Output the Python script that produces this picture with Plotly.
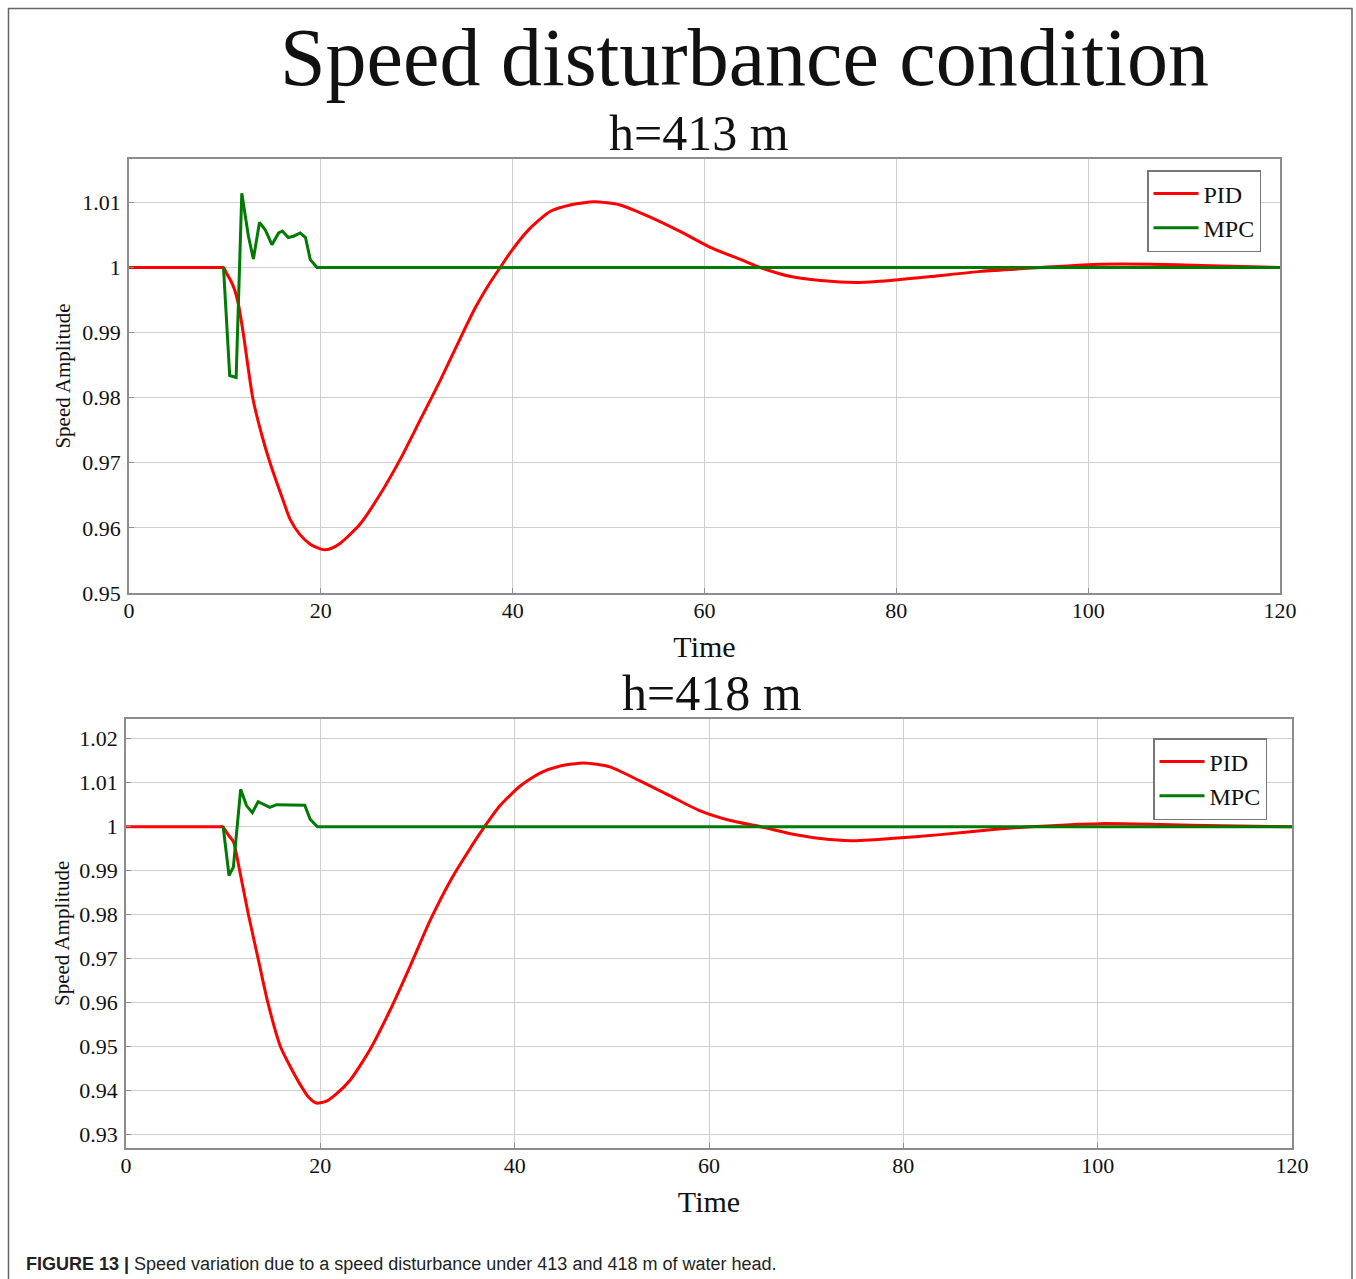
import plotly.graph_objects as go

# ---------------- data ----------------
# h = 413 m
t_pid_413 = [0, 5, 9.5, 9.85, 10.2, 10.6, 11.0, 11.4, 11.9, 12.9, 13.8, 14.7, 16.0, 16.8, 17.8, 18.9, 20.1,
             21.0, 22.0, 24.1, 26.2, 28.3, 30.4, 32.5, 34.5, 36.1, 37.7, 38.7, 39.8, 41.8, 43.9, 46.0,
             48.5, 51.2, 54.4, 57.5, 60.6, 63.8, 65.8, 69.0, 72.1, 75.8, 79.4, 83.6, 88.8, 95.1,
             101.3, 106.5, 111.8, 120]
v_pid_413 = [1.0, 1.0, 1.0, 1.0, 0.9990, 0.9980, 0.9966, 0.9944, 0.9900, 0.9800, 0.9745, 0.9700, 0.9645,
             0.9613, 0.9590, 0.9575, 0.9567, 0.9568, 0.9576, 0.9606, 0.9652, 0.9706, 0.9767, 0.9828,
             0.9890, 0.9938, 0.9978, 1.0000, 1.0024, 1.0060, 1.0086, 1.0096, 1.0101, 1.0096, 1.0077,
             1.0055, 1.0031, 1.0012, 1.0000, 0.9986, 0.9980, 0.9977, 0.9980, 0.9986, 0.9994, 1.0000,
             1.0005, 1.0005, 1.0003, 1.0000]
t_mpc_413 = [9.85, 10.5, 11.17, 11.76, 12.45, 12.97, 13.6, 14.2, 14.9, 15.6, 16.0, 16.6, 17.15,
             17.85, 18.4, 18.9, 19.6, 120]
v_mpc_413 = [1.0, 0.9834, 0.9831, 1.0114, 1.0048, 1.0013, 1.0069, 1.0058, 1.0035, 1.0053, 1.0056,
             1.0046, 1.0048, 1.0053, 1.0046, 1.0012, 1.0000, 1.0000]

# h = 418 m
t_pid_418 = [0, 5, 9.6, 9.96, 10.5, 11.05, 11.7, 12.6, 13.6, 14.6, 15.9, 16.9, 17.9, 18.8, 19.6, 20.5,
             21.5, 23.1, 25.1, 27.2, 29.2, 31.3, 33.4, 35.4, 36.9, 38.5, 40.6, 42.6, 44.7, 47.1, 49.8,
             52.9, 56.0, 59.1, 62.2, 65.3, 68.4, 71.5, 74.6, 78.7, 83.8, 89.0, 93.1, 100.3, 106.5,
             112.7, 120]
v_pid_418 = [1.0, 1.0, 1.0, 1.0, 0.9982, 0.9966, 0.9900, 0.9800, 0.9700, 0.9600, 0.9500, 0.9455, 0.9415,
             0.9385, 0.9372, 0.9375, 0.9390, 0.9425, 0.9493, 0.9584, 0.9681, 0.9787, 0.9878, 0.9950,
             1.0000, 1.0048, 1.0093, 1.0122, 1.0138, 1.0145, 1.0136, 1.0104, 1.0070, 1.0036, 1.0014,
             1.0000, 0.9984, 0.9973, 0.9968, 0.9973, 0.9982, 0.9993, 1.0000, 1.0007, 1.0005, 1.0002,
             1.0000]
t_mpc_418 = [10.0, 10.6, 11.05, 11.8, 12.4, 13.0, 13.6, 14.8, 15.5, 16.9, 18.4, 18.95, 19.7, 120]
v_mpc_418 = [1.0, 0.9889, 0.9908, 1.0085, 1.0048, 1.0032, 1.0057, 1.0044, 1.0050, 1.0049,
             1.0049, 1.0017, 1.0000, 1.0000]

x_ticks = [0, 20, 40, 60, 80, 100, 120]
y_ticks_413 = [0.95, 0.96, 0.97, 0.98, 0.99, 1.0, 1.01]
y_text_413 = ["0.95", "0.96", "0.97", "0.98", "0.99", "1", "1.01"]
y_ticks_418 = [0.93, 0.94, 0.95, 0.96, 0.97, 0.98, 0.99, 1.0, 1.01, 1.02]
y_text_418 = ["0.93", "0.94", "0.95", "0.96", "0.97", "0.98", "0.99", "1", "1.01", "1.02"]

RED = "#ff0000"
GREEN = "#007a00"
SERIF = "Liberation Serif, Times New Roman, serif"

fig = go.Figure()
fig.add_trace(go.Scatter(x=t_pid_413, y=v_pid_413, name="PID", mode="lines",
                         line=dict(color=RED, width=3, shape="spline", smoothing=0.6),
                         xaxis="x", yaxis="y", legend="legend"))
fig.add_trace(go.Scatter(x=t_mpc_413, y=v_mpc_413, name="MPC", mode="lines",
                         line=dict(color=GREEN, width=3),
                         xaxis="x", yaxis="y", legend="legend"))
fig.add_trace(go.Scatter(x=t_pid_418, y=v_pid_418, name="PID", mode="lines",
                         line=dict(color=RED, width=3, shape="spline", smoothing=0.6),
                         xaxis="x2", yaxis="y2", legend="legend2"))
fig.add_trace(go.Scatter(x=t_mpc_418, y=v_mpc_418, name="MPC", mode="lines",
                         line=dict(color=GREEN, width=3),
                         xaxis="x2", yaxis="y2", legend="legend2"))

W, H = 1356, 1279

axis_common = dict(showline=True, linecolor="#8c8c8c", linewidth=1.5, mirror=True,
                   showgrid=True, gridcolor="#cfcfcf", gridwidth=1, zeroline=False,
                   ticks="inside", ticklen=5, tickcolor="#8c8c8c", automargin=False,
                   tickfont=dict(family=SERIF, size=22, color="#111"))

xt = dict(axis_common, range=[0, 120], tickvals=x_ticks,
          title=dict(text="Time", font=dict(family=SERIF, size=30, color="#111"), standoff=14),
          ticklabelstandoff=-3)

legend_common = dict(xanchor="left", yanchor="top", bgcolor="white", bordercolor="#777",
                     borderwidth=1.5, font=dict(family=SERIF, size=24, color="#111"),
                     tracegroupgap=0, itemwidth=45)

fig.update_layout(
    width=W, height=H, autosize=False,
    margin=dict(l=0, r=0, t=0, b=0, pad=0, autoexpand=False),
    paper_bgcolor="white", plot_bgcolor="white",
    showlegend=True,
    xaxis=dict(xt, domain=[129 / W, 1280 / W], anchor="y"),
    yaxis=dict(axis_common, domain=[1 - 593 / H, 1 - 159 / H], anchor="x",
               range=[0.95, 1.01666], tickvals=y_ticks_413, ticktext=y_text_413,
               ticklabelstandoff=2,
               title=dict(text="Speed Amplitude", font=dict(family=SERIF, size=21, color="#111"),
                          standoff=6)),
    xaxis2=dict(xt, domain=[126 / W, 1292 / W], anchor="y2"),
    yaxis2=dict(axis_common, domain=[1 - 1147.7 / H, 1 - 719 / H], anchor="x2",
                range=[0.92705, 1.02448], tickvals=y_ticks_418, ticktext=y_text_418,
                ticklabelstandoff=2,
                title=dict(text="Speed Amplitude", font=dict(family=SERIF, size=21, color="#111"),
                           standoff=4)),
    legend=dict(legend_common, x=1147 / W, y=1 - 170 / H),
    legend2=dict(legend_common, x=1153 / W, y=1 - 738 / H),
)

annotations = [
    dict(text="Speed disturbance condition", x=745 / W, y=1 - 57 / H, xref="paper", yref="paper",
         showarrow=False, font=dict(family=SERIF, size=82, color="#111"), xanchor="center", yanchor="middle"),
    dict(text="h=413 m", x=699 / W, y=1 - 133 / H, xref="paper", yref="paper",
         showarrow=False, font=dict(family=SERIF, size=50, color="#111"), xanchor="center", yanchor="middle"),
    dict(text="h=418 m", x=712 / W, y=1 - 693 / H, xref="paper", yref="paper",
         showarrow=False, font=dict(family=SERIF, size=50, color="#111"), xanchor="center", yanchor="middle"),
    dict(text="<b>FIGURE 13 |</b> Speed variation due to a speed disturbance under 413 and 418 m of water head.",
         x=24 / W, y=1 - 1264 / H, xref="paper", yref="paper", showarrow=False,
         font=dict(family="Liberation Sans, Arial, sans-serif", size=18, color="#222"),
         xanchor="left", yanchor="middle"),
]
fig.update_layout(annotations=annotations)

fig.add_shape(type="rect", xref="paper", yref="paper",
              x0=8.5 / W, x1=1352 / W, y0=-0.02, y1=1 - 8.5 / H,
              line=dict(color="#666", width=1.5), fillcolor="rgba(0,0,0,0)", layer="below")

fig.write_html("out.html",
               config={"displayModeBar": False, "responsive": False},
               post_script="document.body.style.margin='0';document.body.style.overflow='hidden';"
                           "document.documentElement.style.overflow='hidden';")
